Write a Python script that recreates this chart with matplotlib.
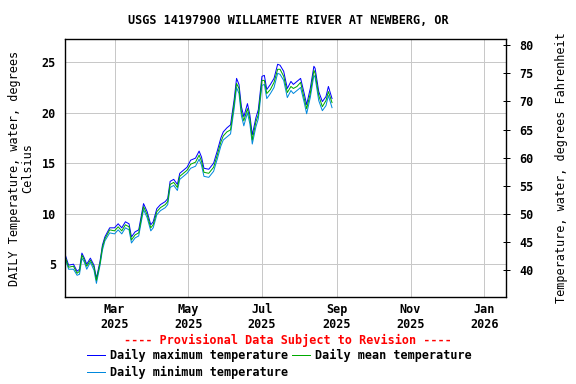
import numpy as np
import matplotlib
matplotlib.use('Agg')
import matplotlib.pyplot as plt
import matplotlib.dates as mdates

plt.rcParams['font.family'] = ['DejaVu Sans Mono']
plt.rcParams['font.weight'] = 'bold'
plt.rcParams['font.size'] = 11.7

# sample dates (2025)
dates = ['01-19', '01-22', '01-26', '01-29', '01-31', '02-02', '02-04', '02-06', '02-09', '02-12',
         '02-14', '02-17', '02-19', '02-21', '02-25', '03-01', '03-04', '03-07', '03-10', '03-13',
         '03-15', '03-18', '03-21', '03-25', '03-28', '03-31', '04-02', '04-05', '04-08', '04-12',
         '04-14', '04-16', '04-19', '04-22', '04-24', '04-27', '04-30', '05-03', '05-07', '05-10',
         '05-12', '05-14', '05-18', '05-22', '05-25', '05-28', '05-30', '06-02', '06-05', '06-08',
         '06-10', '06-12', '06-14', '06-16', '06-19', '06-21', '06-23', '06-26', '06-28', '07-01',
         '07-03', '07-05', '07-08', '07-11', '07-14', '07-16', '07-19', '07-22', '07-25', '07-27',
         '07-30', '08-02', '08-05', '08-07', '08-10', '08-13', '08-14', '08-17', '08-20', '08-23',
         '08-25', '08-28']

max_c = [6.0, 4.9, 5.0, 4.3, 4.5, 6.1, 5.6, 5.0, 5.6, 4.9,
         3.6, 5.3, 6.9, 7.7, 8.6, 8.6, 9.0, 8.6, 9.2, 9.0,
         7.7, 8.2, 8.4, 11.0, 10.2, 8.9, 9.2, 10.5, 10.9, 11.2,
         11.5, 13.2, 13.4, 12.9, 14.0, 14.3, 14.6, 15.3, 15.5, 16.2,
         15.6, 14.5, 14.4, 15.0, 16.2, 17.5, 18.1, 18.5, 18.8, 21.3,
         23.4, 22.8, 20.6, 19.6, 20.9, 19.8, 17.8, 19.5, 20.3, 23.6,
         23.7, 22.3, 22.8, 23.4, 24.8, 24.7, 24.1, 22.4, 23.1, 22.8,
         23.1, 23.4, 21.9, 20.8, 22.4, 24.6, 24.4, 22.1, 21.1, 21.6,
         22.6, 21.4]

mean_c = [5.8, 4.7, 4.8, 4.1, 4.3, 5.9, 5.4, 4.8, 5.4, 4.7,
          3.4, 5.1, 6.7, 7.5, 8.4, 8.3, 8.7, 8.3, 8.9, 8.7,
          7.4, 7.9, 8.1, 10.7, 9.9, 8.6, 8.9, 10.2, 10.6, 10.9,
          11.2, 12.9, 13.1, 12.6, 13.7, 14.0, 14.3, 14.9, 15.1, 15.8,
          15.2, 14.1, 14.0, 14.6, 15.8, 17.1, 17.7, 18.1, 18.3, 20.9,
          22.9, 22.4, 20.1, 19.2, 20.4, 19.4, 17.3, 19.1, 19.8, 23.2,
          23.2, 21.9, 22.3, 23.0, 24.3, 24.3, 23.6, 22.0, 22.6, 22.4,
          22.6, 23.0, 21.4, 20.4, 21.9, 24.2, 23.9, 21.7, 20.6, 21.2,
          22.1, 21.0]

min_c = [5.6, 4.5, 4.5, 3.9, 4.0, 5.6, 5.2, 4.5, 5.2, 4.4,
         3.1, 4.9, 6.4, 7.3, 8.1, 8.0, 8.4, 8.0, 8.6, 8.4,
         7.1, 7.6, 7.8, 10.4, 9.6, 8.3, 8.6, 9.9, 10.3, 10.6,
         10.9, 12.6, 12.8, 12.3, 13.4, 13.7, 14.0, 14.5, 14.7, 15.4,
         14.8, 13.7, 13.6, 14.2, 15.4, 16.7, 17.3, 17.6, 17.9, 20.4,
         22.5, 21.9, 19.7, 18.7, 20.0, 18.9, 16.9, 18.6, 19.4, 22.7,
         22.8, 21.4, 21.9, 22.5, 23.9, 23.8, 23.2, 21.5, 22.2, 21.9,
         22.2, 22.5, 21.0, 19.9, 21.5, 23.7, 23.5, 21.2, 20.2, 20.7,
         21.7, 20.5]

x = np.array(['2025-' + d for d in dates], dtype='datetime64[D]')

fig = plt.figure(figsize=(8, 384 / 72), dpi=72)
ax = fig.add_axes([65 / 576, 87 / 384, 441 / 576, 258 / 384])

ax.plot(x, max_c, color='#0000ff', lw=1, label='Daily maximum temperature')
ax.plot(x, min_c, color='#0088dd', lw=1, label='Daily minimum temperature')
ax.plot(x, mean_c, color='#00aa00', lw=1, label='Daily mean temperature')

ylo, yhi = 1.75, 27.3
ax.set_ylim(ylo, yhi)
ax.set_xlim(np.datetime64('2025-01-19'), np.datetime64('2026-01-19'))
ax.set_yticks([5, 10, 15, 20, 25])
ax.xaxis.set_major_locator(mdates.MonthLocator(bymonth=[1, 3, 5, 7, 9, 11]))
ax.xaxis.set_major_formatter(mdates.DateFormatter('%b\n%Y'))
ax.grid(True, color='#c8c8c8', lw=1)
ax.tick_params(axis='both', length=0)
ax.tick_params(axis='y', pad=9)
ax.tick_params(axis='x', pad=6)
for s in ax.spines.values():
    s.set_linewidth(1.2)
ax.set_ylabel('DAILY Temperature, water, degrees\nCelsius', labelpad=8, linespacing=0.95)

ax2 = ax.twinx()
ax2.set_ylim(ylo * 9 / 5 + 32, yhi * 9 / 5 + 32)
ax2.set_yticks(range(40, 81, 5))
ax2.tick_params(axis='y', direction='inout', length=7, width=1, pad=10)
ax2.set_ylabel('Temperature, water, degrees Fahrenheit', labelpad=21)
for s in ax2.spines.values():
    s.set_linewidth(1.2)

fig.text(0.5, 1 - 20 / 384, 'USGS 14197900 WILLAMETTE RIVER AT NEWBERG, OR',
         ha='center', va='center')
fig.text(0.5, 1 - 340 / 384, '---- Provisional Data Subject to Revision ----',
         ha='center', va='center', color='red')

h, l = ax.get_legend_handles_labels()
fig.legend(h, l, ncol=2, loc='upper left', bbox_to_anchor=(87 / 576, 1 - 349 / 384),
           frameon=False, handlelength=1.5, handletextpad=0.5, columnspacing=0.3,
           labelspacing=0.3, borderpad=0, borderaxespad=0)

fig.savefig('out.png', dpi=72)
